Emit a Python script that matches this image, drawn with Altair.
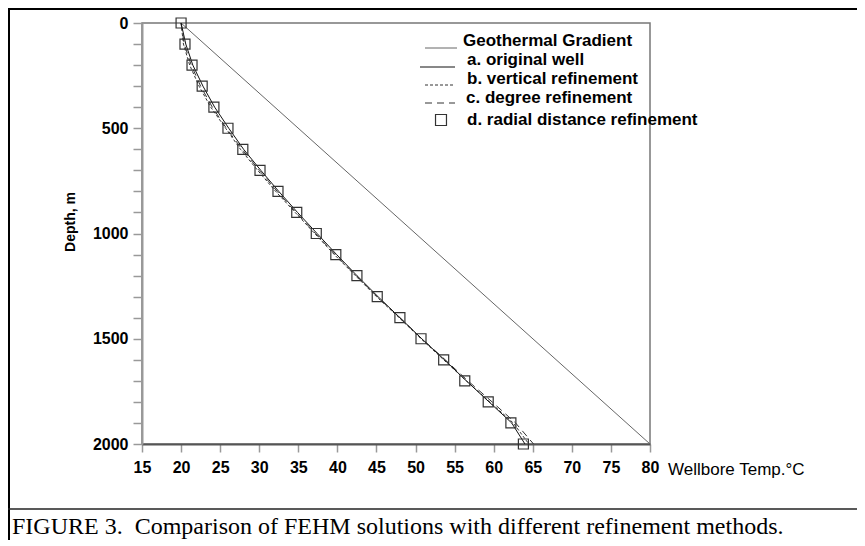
import altair as alt
import pandas as pd

# ---------------- data ----------------
depth = [0, 100, 200, 300, 400, 500, 600, 700, 800, 900, 1000,
         1100, 1200, 1300, 1400, 1500, 1600, 1700, 1800, 1900, 2000]
temp_original = [20.0, 20.6, 21.5, 22.8, 24.3, 26.1, 28.0, 30.2, 32.5, 34.9, 37.4,
                 39.9, 42.5, 45.2, 48.0, 50.8, 53.7, 56.5, 59.4, 62.3, 64.0]
temp_vertical = [20.0, 20.3, 21.1, 22.3, 23.8, 25.7, 27.6, 29.8, 32.1, 34.6, 37.1,
                 39.6, 42.3, 45.0, 47.9, 50.7, 53.6, 56.5, 59.5, 62.5, 64.5]
temp_degree = [20.0, 20.4, 21.3, 22.5, 24.0, 25.8, 27.8, 30.0, 32.3, 34.7, 37.2,
               39.7, 42.4, 45.1, 48.0, 50.8, 53.8, 56.7, 59.8, 62.8, 65.1]
temp_radial = [20.0, 20.5, 21.4, 22.7, 24.2, 26.0, 27.9, 30.1, 32.4, 34.8, 37.3,
               39.8, 42.5, 45.1, 48.0, 50.7, 53.6, 56.3, 59.3, 62.2, 63.8]
geo_depth = [0, 2000]
geo_temp = [20, 80]

x_ticks = [15, 20, 25, 30, 35, 40, 45, 50, 55, 60, 65, 70, 75, 80]
y_ticks = list(range(0, 2001, 100))

legend_labels = ["Geothermal Gradient", "a. original well", "b. vertical refinement",
                 "c. degree refinement", "d. radial distance refinement"]
x_title = "Wellbore Temp.\u00b0C"
y_title = "Depth, m"
caption = "FIGURE 3.\u00a0 Comparison of FEHM solutions with different refinement methods."

# ---------------- styling ----------------
SANS = "Liberation Sans"
SERIF = "Liberation Serif"
W, H = 508, 421

xs = alt.Scale(domain=[15, 80], nice=False, zero=False)
ys = alt.Scale(domain=[0, 2000], reverse=True, nice=False, zero=False)

x_axis = alt.Axis(values=x_ticks, title=None, grid=False, labelFont=SANS, labelFontSize=16,
                  labelFontWeight="bold", labelColor="black", tickColor="#999999",
                  tickSize=8, tickWidth=1.5, domainColor="#555555", domainWidth=2,
                  labelPadding=7, labelFlush=False, labelOverlap=False)
y_axis = alt.Axis(values=y_ticks, title=None, grid=False, format="d",
                  labelExpr="datum.value % 500 == 0 ? datum.label : ''",
                  labelFont=SANS, labelFontSize=16, labelFontWeight="bold",
                  labelColor="black", tickColor="#999999", tickSize=9, tickWidth=1.5,
                  domainColor="#999999", domainWidth=2, labelPadding=5,
                  labelFlush=False, labelOverlap=False)

x_enc = alt.X("T:Q", scale=xs, axis=x_axis)
y_enc = alt.Y("depth:Q", scale=ys, axis=y_axis)


def series(temps, depths):
    return pd.DataFrame({"T": temps, "depth": depths})


geo = alt.Chart(series(geo_temp, geo_depth)).mark_line(
    color="#666666", strokeWidth=1).encode(x=x_enc, y=y_enc, order="depth:Q")
line_a = alt.Chart(series(temp_original, depth)).mark_line(
    color="#111111", strokeWidth=1).encode(x=x_enc, y=y_enc, order="depth:Q")
line_b = alt.Chart(series(temp_vertical, depth)).mark_line(
    color="#333333", strokeWidth=1, strokeDash=[3, 2]).encode(x=x_enc, y=y_enc, order="depth:Q")
line_c = alt.Chart(series(temp_degree, depth)).mark_line(
    color="#333333", strokeWidth=1, strokeDash=[7, 5]).encode(x=x_enc, y=y_enc, order="depth:Q")
pts_d = alt.Chart(series(temp_radial, depth)).mark_point(
    shape="square", filled=False, size=100, color="#333333", strokeWidth=1.2,
    opacity=1).encode(x=x_enc, y=y_enc)

one = pd.DataFrame({"k": [0]})

# ---------------- legend (pixel layout relative to plot area) ----------------
legend_layers = []
text_pos = [(321, 23), (325, 42), (325, 61), (324, 80), (325, 102)]
for lab, (tx, ty) in zip(legend_labels, text_pos):
    legend_layers.append(
        alt.Chart(pd.DataFrame({"label": [lab]})).mark_text(
            font=SANS, fontSize=17, fontWeight="bold", align="left",
            baseline="alphabetic", color="black").encode(
            text="label:N", x=alt.value(tx), y=alt.value(ty)))

legend_layers += [
    alt.Chart(one).mark_rule(color="#666666", strokeWidth=1).encode(
        x=alt.value(283), x2=alt.value(315), y=alt.value(25)),
    alt.Chart(one).mark_rule(color="#111111", strokeWidth=1).encode(
        x=alt.value(278), x2=alt.value(313), y=alt.value(44)),
    alt.Chart(one).mark_rule(color="#333333", strokeWidth=1, strokeDash=[3, 2]).encode(
        x=alt.value(283), x2=alt.value(313), y=alt.value(62)),
    alt.Chart(one).mark_rule(color="#333333", strokeWidth=1, strokeDash=[7, 5]).encode(
        x=alt.value(283), x2=alt.value(313), y=alt.value(80)),
    alt.Chart(one).mark_point(shape="square", filled=False, size=120, color="#333333",
                              strokeWidth=1.2, opacity=1).encode(
        x=alt.value(299), y=alt.value(97)),
]

# ---------------- axis titles, frame, caption ----------------
deco = [
    alt.Chart(pd.DataFrame({"t": [x_title]})).mark_text(
        font=SANS, fontSize=17, align="left", baseline="middle", color="black").encode(
        text="t:N", x=alt.value(526), y=alt.value(447)),
    alt.Chart(pd.DataFrame({"t": [y_title]})).mark_text(
        font=SANS, fontSize=14, fontWeight="bold", align="center", baseline="middle",
        angle=270, color="black").encode(
        text="t:N", x=alt.value(-71), y=alt.value(199)),
    alt.Chart(one).mark_rule(color="black", strokeWidth=2).encode(
        x=alt.value(-134), x2=alt.value(730), y=alt.value(-14)),
    alt.Chart(one).mark_rule(color="black", strokeWidth=2).encode(
        x=alt.value(-133), y=alt.value(-15), y2=alt.value(525)),
    alt.Chart(one).mark_rule(color="#222222", strokeWidth=1.5).encode(
        x=alt.value(-134), x2=alt.value(730), y=alt.value(486)),
    alt.Chart(pd.DataFrame({"t": [caption]})).mark_text(
        font=SERIF, fontSize=24, align="left", baseline="alphabetic", color="black").encode(
        text="t:N", x=alt.value(-130), y=alt.value(511)),
]

chart = alt.layer(geo, line_c, line_b, line_a, pts_d, *legend_layers, *deco).properties(
    width=W, height=H,
    autosize=alt.AutoSizeParams(type="none"),
    padding={"left": 134, "top": 15, "right": 207, "bottom": 96},
    background="white",
).configure_view(stroke="#777777", strokeWidth=1.5)

chart.save("out.html", embed_options={"renderer": "svg", "actions": False})
